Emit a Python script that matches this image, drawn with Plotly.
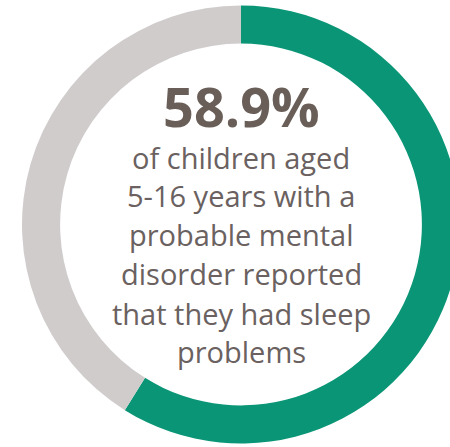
import plotly.graph_objects as go

# ---- data ----
labels = ["Reported sleep problems", "Did not report sleep problems"]
values = [58.9, 41.1]
colors = ["#0a9676", "#d0cccc"]
headline = "58.9%"
body_lines = [
    "of children aged",
    "5-16 years with a",
    "probable mental",
    "disorder reported",
    "that they had sleep",
    "problems",
]

W, H = 470, 447
cx, cy, R = 241, 224.5, 219  # pixel geometry of the ring (from top-left)

fig = go.Figure(
    go.Pie(
        labels=labels,
        values=values,
        sort=False,
        direction="clockwise",
        rotation=0,
        hole=0.826,
        marker=dict(colors=colors, line=dict(width=0)),
        textinfo="none",
        hoverinfo="label+percent",
        showlegend=False,
        domain=dict(x=[(cx - R) / W, (cx + R) / W],
                    y=[(H - cy - R) / H, (H - cy + R) / H]),
    )
)

annotations = [
    dict(text="<b>" + headline + "</b>", x=cx / W, y=(H - 105.5) / H,
         xref="paper", yref="paper", xanchor="center", yanchor="middle",
         showarrow=False,
         font=dict(family="Open Sans", size=54, color="#6a5e58"))
]
baselines = [167, 206, 245, 284, 323, 361]
for line, b in zip(body_lines, baselines):
    annotations.append(dict(
        text=line, x=cx / W, y=(H - (b - 10)) / H,
        xref="paper", yref="paper", xanchor="center", yanchor="middle",
        showarrow=False,
        font=dict(family="Open Sans", size=29, color="#6a6160")))

fig.update_layout(
    width=W, height=H,
    margin=dict(l=0, r=0, t=0, b=0),
    paper_bgcolor="white",
    plot_bgcolor="white",
    annotations=annotations,
)

fig.write_html(
    "out.html",
    post_script="document.documentElement.style.overflow='hidden';document.body.style.overflow='hidden';",
)
